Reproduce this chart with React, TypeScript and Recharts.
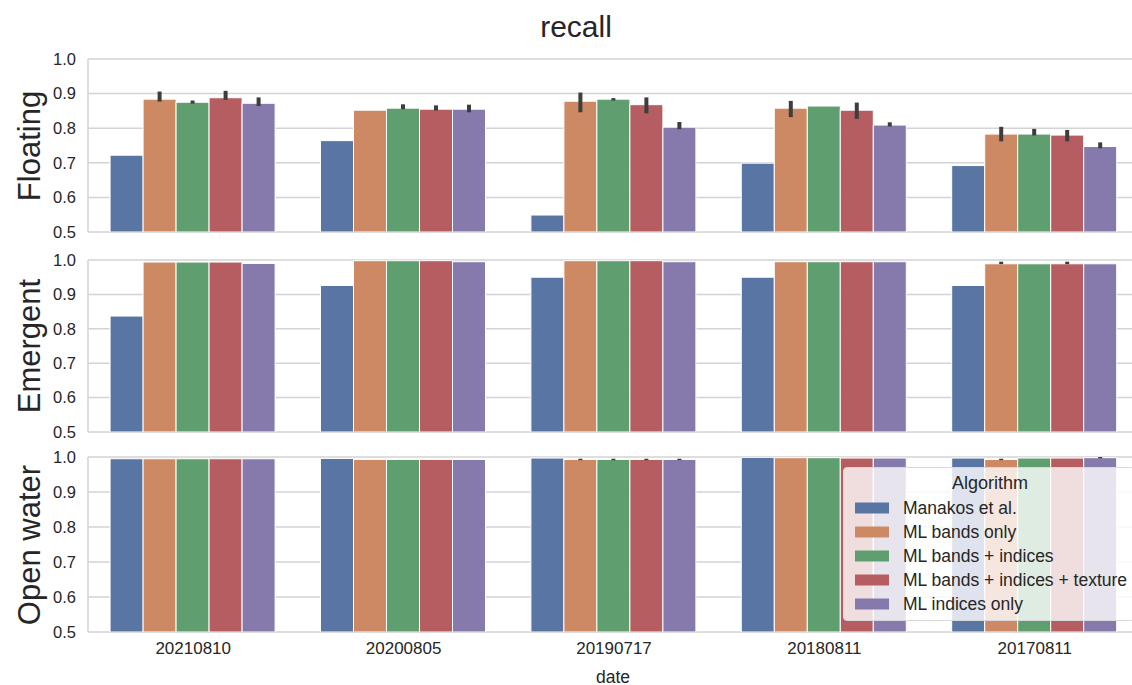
import { BarChart, Bar, XAxis, YAxis, CartesianGrid, ErrorBar } from "recharts";

const dates = ["20210810", "20200805", "20190717", "20180811", "20170811"];
const algorithms = [
  "Manakos et al.",
  "ML bands only",
  "ML bands + indices",
  "ML bands + indices + texture",
  "ML indices only",
];
const colors = ["#5975a4", "#cc8963", "#5f9e6e", "#b55d60", "#857aab"];
const yTicks = [0.5, 0.6, 0.7, 0.8, 0.9, 1.0];

// Floating
const floatingManakos = [0.722, 0.764, 0.549, 0.699, 0.692];
const floatingBands = [0.884, 0.852, 0.878, 0.858, 0.783];
const floatingBandsIdx = [0.875, 0.858, 0.884, 0.864, 0.783];
const floatingTexture = [0.888, 0.855, 0.868, 0.852, 0.78];
const floatingIdx = [0.872, 0.855, 0.803, 0.809, 0.747];
const floatingBandsCI = [[0.877, 0.906], null, [0.846, 0.903], [0.832, 0.879], [0.762, 0.804]];
const floatingBandsIdxCI = [[0.871, 0.88], [0.855, 0.869], [0.88, 0.887], null, [0.779, 0.798]];
const floatingTextureCI = [[0.882, 0.908], [0.851, 0.866], [0.843, 0.889], [0.827, 0.874], [0.762, 0.795]];
const floatingIdxCI = [[0.864, 0.889], [0.846, 0.868], [0.797, 0.818], [0.805, 0.817], [0.742, 0.759]];

// Emergent
const emergentManakos = [0.837, 0.926, 0.95, 0.95, 0.926];
const emergentBands = [0.994, 0.998, 0.998, 0.995, 0.989];
const emergentBandsIdx = [0.994, 0.998, 0.998, 0.995, 0.989];
const emergentTexture = [0.994, 0.998, 0.998, 0.995, 0.989];
const emergentIdx = [0.99, 0.995, 0.995, 0.995, 0.989];
const emergentBandsCI = [null, null, null, null, [0.988, 0.995]];
const emergentTextureCI = [null, null, null, null, [0.988, 0.995]];

// Open water
const openManakos = [0.995, 0.996, 0.997, 0.999, 0.997];
const openBands = [0.995, 0.993, 0.993, 0.998, 0.993];
const openBandsIdx = [0.995, 0.993, 0.993, 0.998, 0.997];
const openTexture = [0.995, 0.993, 0.993, 0.997, 0.997];
const openIdx = [0.995, 0.993, 0.993, 0.997, 0.998];
const openBandsCI = [null, null, [0.991, 0.995], null, [0.991, 0.995]];
const openBandsIdxCI = [null, null, [0.991, 0.995], null, null];
const openTextureCI = [null, null, [0.991, 0.995], null, null];
const openIdxCI = [null, null, [0.991, 0.995], null, [0.996, 1.0]];

type CI = (number[] | null)[];

function buildRows(series: number[][], cis: (CI | null)[]) {
  return dates.map((date, i) => {
    const row: Record<string, any> = { date };
    series.forEach((vals, k) => {
      row["s" + k] = vals[i];
      const ci = cis[k] ? cis[k]![i] : null;
      row["e" + k] = ci ? [vals[i] - ci[0], ci[1] - vals[i]] : [0, 0];
    });
    return row;
  });
}

const panels = [
  {
    name: "Floating",
    top: 49,
    plotH: 173,
    rows: buildRows(
      [floatingManakos, floatingBands, floatingBandsIdx, floatingTexture, floatingIdx],
      [null, floatingBandsCI, floatingBandsIdxCI, floatingTextureCI, floatingIdxCI]
    ),
  },
  {
    name: "Emergent",
    top: 250,
    plotH: 172,
    rows: buildRows(
      [emergentManakos, emergentBands, emergentBandsIdx, emergentTexture, emergentIdx],
      [null, emergentBandsCI, null, emergentTextureCI, null]
    ),
  },
  {
    name: "Open water",
    top: 447,
    plotH: 175,
    rows: buildRows(
      [openManakos, openBands, openBandsIdx, openTexture, openIdx],
      [null, openBandsCI, openBandsIdxCI, openTextureCI, openIdxCI]
    ),
  },
];

const FONT = "'Liberation Sans', Arial, sans-serif";
const TEXT = "#262626";

function Panel({ p, last }: { p: (typeof panels)[number]; last: boolean }) {
  const h = 10 + p.plotH + (last ? 30 : 10);
  return (
    <div style={{ position: "absolute", left: 0, top: p.top }}>
      <BarChart
        width={1140}
        height={h}
        data={p.rows}
        margin={{ top: 10, right: 0, bottom: last ? 0 : 10, left: 0 }}
        barCategoryGap="10.5%"
        barGap={0}
      >
        <CartesianGrid vertical={false} stroke="#d3d3d3" strokeWidth={1.5} />
        <XAxis
          dataKey="date"
          hide={!last}
          height={30}
          axisLine={false}
          tickLine={false}
          tickMargin={4}
          tick={{ fill: TEXT, fontSize: 17, fontFamily: FONT }}
        />
        <YAxis
          width={88}
          domain={[0.5, 1.0]}
          ticks={yTicks}
          allowDataOverflow
          tickFormatter={(v: number) => v.toFixed(1)}
          axisLine={{ stroke: "#d3d3d3", strokeWidth: 1.5 }}
          tickLine={false}
          tickMargin={6}
          tick={{ fill: TEXT, fontSize: 16.5, fontFamily: FONT }}
        />
        {algorithms.map((a, k) => (
          <Bar
            key={a}
            dataKey={"s" + k}
            name={a}
            fill={colors[k]}
            stroke="#ffffff"
            strokeWidth={1}
            isAnimationActive={false}
          >
            <ErrorBar dataKey={"e" + k} width={0} stroke="#3d3d3d" strokeWidth={4} direction="y" />
          </Bar>
        ))}
      </BarChart>
      <div
        style={{
          position: "absolute",
          left: 30,
          top: 10 + p.plotH / 2,
          transform: "translate(-50%, -50%) rotate(-90deg)",
          fontSize: 31,
          color: TEXT,
          whiteSpace: "nowrap",
          fontFamily: FONT,
        }}
      >
        {p.name}
      </div>
    </div>
  );
}

export default function App() {
  return (
    <div
      style={{
        position: "absolute",
        left: 0,
        top: 0,
        width: 1132,
        height: 685,
        overflow: "hidden",
        background: "#ffffff",
        fontFamily: FONT,
      }}
    >
      <div
        style={{
          position: "absolute",
          left: 576,
          top: 27,
          transform: "translate(-50%, -50%)",
          fontSize: 30,
          color: TEXT,
        }}
      >
        recall
      </div>
      {panels.map((p, i) => (
        <Panel key={p.name} p={p} last={i === panels.length - 1} />
      ))}
      <div
        style={{
          position: "absolute",
          left: 613,
          top: 677,
          transform: "translate(-50%, -50%)",
          fontSize: 17.5,
          color: TEXT,
        }}
      >
        date
      </div>
      <div
        style={{
          position: "absolute",
          left: 843,
          top: 467,
          width: 292,
          height: 154,
          background: "rgba(255,255,255,0.8)",
          border: "1px solid #d8d8d8",
          borderRadius: 4,
          boxSizing: "border-box",
          color: TEXT,
        }}
      >
        <div style={{ position: "absolute", left: 0, width: 292, top: 15, transform: "translateY(-50%)", textAlign: "center", fontSize: 18 }}>
          Algorithm
        </div>
        {algorithms.map((a, k) => (
          <div
            key={a}
            style={{ position: "absolute", left: 11, top: 40 + k * 24, transform: "translateY(-50%)", display: "flex", alignItems: "center" }}
          >
            <span style={{ display: "inline-block", width: 34, height: 11, background: colors[k], marginRight: 14 }} />
            <span style={{ fontSize: 17.5, whiteSpace: "nowrap" }}>{a}</span>
          </div>
        ))}
      </div>
    </div>
  );
}
